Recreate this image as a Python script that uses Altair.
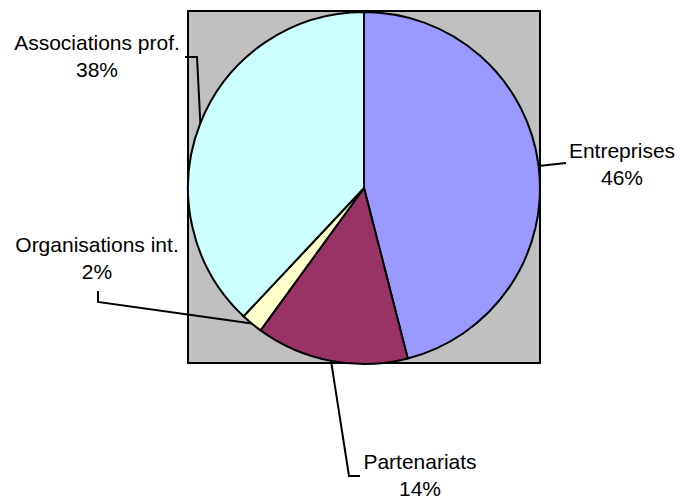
import math
import altair as alt
import pandas as pd

# Slice data
names = ["Entreprises", "Partenariats", "Organisations int.", "Associations prof."]
shares = [46, 14, 2, 38]
colors = ["#9999FF", "#993366", "#FFFFCC", "#CCFFFF"]

# Layout (pixels)
W, H = 680, 498
CX, CY, R = 364, 188, 176
BOX = (188, 11, 540, 363)
FONT = "Liberation Sans"
FS = 21

# Label anchors: (center x, baseline y of name line)
label_pos = {
    "Entreprises": (622, 158),
    "Partenariats": (420, 469),
    "Organisations int.": (97, 252),
    "Associations prof.": (97, 50),
}
# Leader line elbows after leaving the pie edge
leader_tail = {
    "Entreprises": [(566, 163)],
    "Partenariats": [(349, 476), (360, 476)],
    "Organisations int.": [(98, 302), (98, 291)],
    "Associations prof.": [(197, 57), (185, 57)],
}

pie_df = pd.DataFrame({"name": names, "value": shares, "idx": range(len(names))})

total = sum(shares)
rows_line, rows_text = [], []
cum = 0
for n, v in zip(names, shares):
    mid = (cum + v / 2) / total * 2 * math.pi
    cum += v
    sx = CX + R * math.sin(mid)
    sy = CY - R * math.cos(mid)
    pts = [(sx, sy)] + leader_tail[n]
    for k, (px, py) in enumerate(pts):
        rows_line.append({"name": n, "k": k, "x": px, "y": py})
    lx, ly = label_pos[n]
    rows_text.append({"t": n, "x": lx, "y": ly})
    rows_text.append({"t": f"{v}%", "x": lx, "y": ly + 27})

line_df = pd.DataFrame(rows_line)
text_df = pd.DataFrame(rows_text)

xs = alt.Scale(domain=[0, W], range=[0, W], nice=False, zero=False)
ys = alt.Scale(domain=[0, H], range=[0, H], nice=False, zero=False)

box = alt.Chart(pd.DataFrame({"a": [0]})).mark_rect(
    fill="#C0C0C0", stroke="black", strokeWidth=2
).encode(
    x=alt.value(BOX[0]), x2=alt.value(BOX[2]),
    y=alt.value(BOX[1]), y2=alt.value(BOX[3]),
)

pie = alt.Chart(pie_df).mark_arc(
    outerRadius=R, stroke="black", strokeWidth=2
).encode(
    theta=alt.Theta("value:Q", stack=True),
    order=alt.Order("idx:Q"),
    color=alt.Color("name:N", scale=alt.Scale(domain=names, range=colors), legend=None),
    x=alt.value(CX), y=alt.value(CY),
)

leaders = alt.Chart(line_df).mark_line(color="black", strokeWidth=2).encode(
    x=alt.X("x:Q", scale=xs, axis=None),
    y=alt.Y("y:Q", scale=ys, axis=None),
    detail="name:N",
    order="k:Q",
)

labels = alt.Chart(text_df).mark_text(
    font=FONT, fontSize=FS, align="center", baseline="alphabetic", color="black"
).encode(
    x=alt.X("x:Q", scale=xs, axis=None),
    y=alt.Y("y:Q", scale=ys, axis=None),
    text="t:N",
)

chart = alt.layer(box, pie, leaders, labels).properties(
    width=W, height=H, padding=0, autosize="none", background="white"
).configure_view(stroke=None)

chart.save("out.html", embed_options={"renderer": "svg", "actions": False})
